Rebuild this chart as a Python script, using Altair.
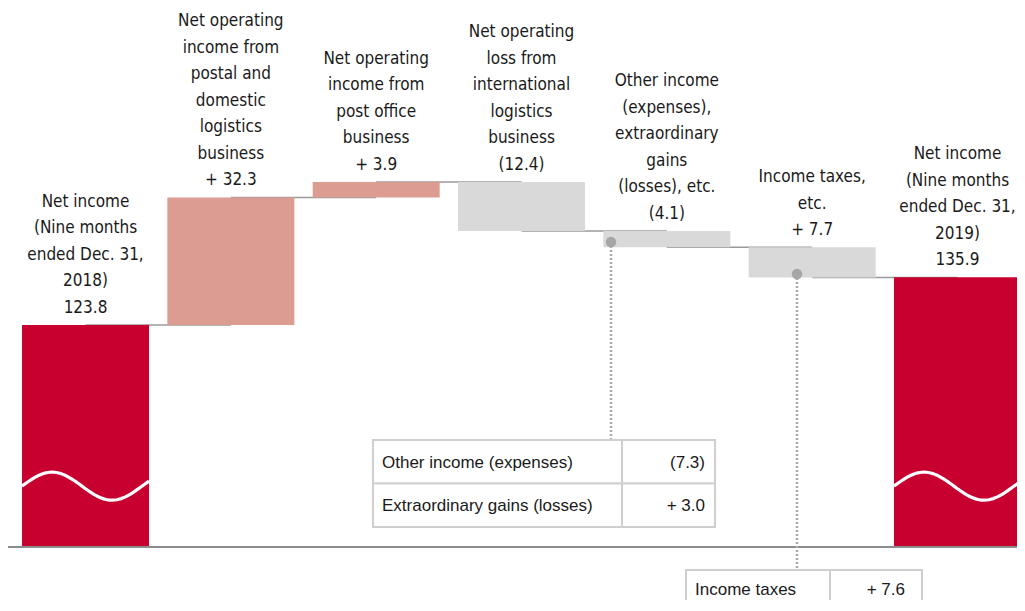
import altair as alt
import pandas as pd
import numpy as np

# ---------------- data ----------------
category_lines = [
    ["Net income", "(Nine months", "ended Dec. 31,", "2018)"],
    ["Net operating", "income from", "postal and", "domestic", "logistics", "business"],
    ["Net operating", "income from", "post office", "business"],
    ["Net operating", "loss from", "international", "logistics", "business"],
    ["Other income", "(expenses),", "extraordinary", "gains", "(losses), etc."],
    ["Income taxes,", "etc."],
    ["Net income", "(Nine months", "ended Dec. 31,", "2019)"],
]
steps = [123.8, 32.3, 3.9, -12.4, -4.1, -7.7, 135.9]
value_labels = ["123.8", "+ 32.3", "+ 3.9", "(12.4)", "(4.1)", "+ 7.7", "135.9"]
kinds = ["total", "increase", "increase", "decrease", "decrease", "decrease", "total"]

table1_items = ["Other income (expenses)", "Extraordinary gains (losses)"]
table1_values = ["(7.3)", "+ 3.0"]
table2_items = ["Income taxes"]
table2_values = ["+ 7.6"]

# ---------------- layout / style ----------------
W, H = 1009, 592
PX = 3.95                      # pixels per unit
Y_TOP = 204.05
Y_DOMAIN = [Y_TOP - H / PX, Y_TOP]
BASE = 67.6                    # value where the broken axis sits
WAVE_LEVEL = 83.0
RED, PINK, GREY = "#C8002F", "#DC9C91", "#D9D9D9"
LABEL_FONT = "DejaVu Sans Condensed"
TABLE_FONT = "Liberation Sans"
LINE_H, VALUE_GAP = 26.5, 17.0

ids = [f"c{i}" for i in range(len(steps))]
starts, ends = [], []
run = 0.0
for k, s in zip(kinds, steps):
    if k == "total":
        starts.append(BASE)
        ends.append(s)
        run = s
    else:
        starts.append(run)
        run = run + s
        ends.append(run)

df = pd.DataFrame({
    "id": ids,
    "start": starts,
    "end": ends,
    "kind": kinds,
})
tops = [max(a, b) for a, b in zip(starts, ends)]

# one row per text line, stacked upward from the bar top
rows = []
for cid, top, lines, val in zip(ids, tops, category_lines, value_labels):
    all_lines = lines + [val]
    n = len(all_lines)
    for j, txt in enumerate(all_lines):
        k = n - 1 - j
        rows.append({"id": cid, "txt": txt, "ty": top + (VALUE_GAP + k * LINE_H) / PX})
lab_df = pd.DataFrame(rows)

conn = pd.DataFrame({
    "id": ids[:-1],
    "id2": ids[1:],
    "level": ends[:-1],
})

xscale = alt.Scale(domain=ids, range=[0, W + 4], paddingInner=0.126, paddingOuter=0.0482, align=1)
yscale = alt.Scale(domain=Y_DOMAIN, zero=False, nice=False)
X = alt.X("id:N", scale=xscale, axis=None)

connectors = alt.Chart(conn).mark_rule(color="#9A9A9A", strokeWidth=1.5).encode(
    x=X, x2="id2:N", y=alt.Y("level:Q", scale=yscale, axis=None)
)

bars = alt.Chart(df).mark_bar().encode(
    x=X,
    y=alt.Y("start:Q", scale=yscale, axis=None),
    y2="end:Q",
    color=alt.Color("kind:N", scale=alt.Scale(domain=["total", "increase", "decrease"],
                                              range=[RED, PINK, GREY]), legend=None),
)

labels = alt.Chart(lab_df).mark_text(
    baseline="middle", fontSize=17, font=LABEL_FONT, color="#1a1a1a", align="center"
).encode(x=X, y=alt.Y("ty:Q", scale=yscale, axis=None), text="txt:N")

# wave (break marker) drawn as a custom symbol inside total bars
bw = 127.0
t = np.linspace(0, 1, 60)
amp = 14.0 / (bw / 2)
pts = [f"{-1 + 2 * ti:.4f} {-amp * np.sin(2 * np.pi * ti * bw / 120.0):.4f}" for ti in t]
wave_path = "M " + " L ".join(pts)
wave_df = df[df["kind"] == "total"].assign(w=WAVE_LEVEL)
waves = alt.Chart(wave_df).mark_point(
    shape=wave_path, filled=False, stroke="white", strokeWidth=3.2, opacity=1, size=bw * bw
).encode(x=X, y=alt.Y("w:Q", scale=yscale, axis=None))

one = pd.DataFrame({"k": [0]})

baseline = alt.Chart(one).mark_rule(color="#8C8C8C", strokeWidth=2).encode(
    x=alt.value(0), x2=alt.value(W),
    y=alt.Y("b:Q", scale=yscale, axis=None)
).transform_calculate(b=str(BASE))

layers = [connectors, bars, waves, baseline]

# dotted leaders with dots
for (dx, dy0, dy1) in [(603, 234, 432), (789, 266, 562)]:
    layers.append(alt.Chart(one).mark_rule(color="#AAAAAA", strokeWidth=2.5, strokeDash=[2, 2]).encode(
        x=alt.value(dx), y=alt.value(dy0), y2=alt.value(dy1)))
    layers.append(alt.Chart(one).mark_point(filled=True, color="#A6A6A6", size=110, opacity=1).encode(
        x=alt.value(dx), y=alt.value(dy0)))

TB = "#CFCFCF"
def cell(x0, x1, y0, y1):
    return alt.Chart(one).mark_rect(fill="white", stroke=TB, strokeWidth=2).encode(
        x=alt.value(x0), x2=alt.value(x1), y=alt.value(y0), y2=alt.value(y1))

def ttext(s, x, y, align):
    return alt.Chart(pd.DataFrame({"s": [s]})).mark_text(
        font=TABLE_FONT, fontSize=17, color="#1a1a1a", align=align, baseline="middle"
    ).encode(x=alt.value(x), y=alt.value(y), text="s:N")

# table 1
row_h = 43.5
for i, (name, val) in enumerate(zip(table1_items, table1_values)):
    y0 = 432 + i * row_h
    layers.append(cell(365, 614, y0, y0 + row_h))
    layers.append(cell(614, 707, y0, y0 + row_h))
    layers.append(ttext(name, 374, y0 + row_h / 2 + 1, "left"))
    layers.append(ttext(val, 697, y0 + row_h / 2 + 1, "right"))

# table 2 (cut at bottom)
for i, (name, val) in enumerate(zip(table2_items, table2_values)):
    y0 = 562 + i * row_h
    layers.append(cell(678, 822, y0, y0 + 60))
    layers.append(cell(822, 914, y0, y0 + 60))
    layers.append(ttext(name, 687, y0 + 20, "left"))
    layers.append(ttext(val, 897, y0 + 20, "right"))

layers.append(labels)

chart = alt.layer(*layers).properties(
    width=W, height=H, padding=0,
    autosize=alt.AutoSizeParams(type="none"),
    background="white",
).configure_view(stroke=None)

chart.save("out.html", embed_options={"renderer": "svg", "actions": False})
